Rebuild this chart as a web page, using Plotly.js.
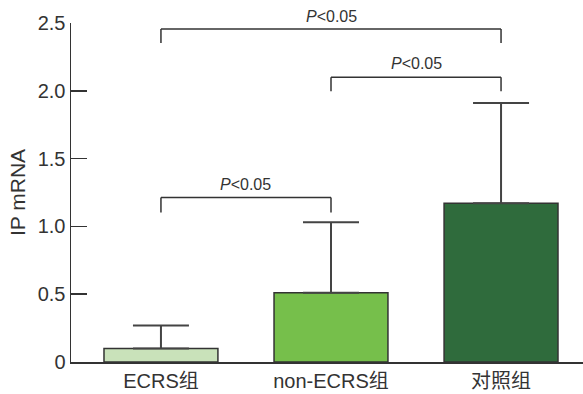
<!DOCTYPE html>
<html>
<head>
<meta charset="utf-8">
<script src="https://cdn.plot.ly/plotly-3.0.1.min.js"></script>
<style>html,body{margin:0;padding:0;background:#fff}#chart{width:583px;height:394px}</style>
</head>
<body>
<div id="chart"></div>
<script>
const categories = ["ECRS组", "non-ECRS组", "对照组"];
const means = [0.10, 0.51, 1.17];
const errUpper = [0.17, 0.52, 0.74];
const barColors = ["#c9e2ba", "#76bf4b", "#2f6b3c"];
const yTickVals = [0, 0.5, 1.0, 1.5, 2.0, 2.5];
const yTickText = ["0", "0.5", "1.0", "1.5", "2.0", "2.5"];
const yMax = 2.5;
// significance brackets: [from index, to index, bar height, leg bottom, label height]
const bracketFrom = [0, 1, 0];
const bracketTo = [2, 2, 1];
const bracketTop = [2.455, 2.10, 1.213];
const bracketLeg = [2.352, 1.997, 1.102];
const bracketLabelY = [2.545, 2.205, 1.31];
const bracketLabel = ["<i>P</i><0.05", "<i>P</i><0.05", "<i>P</i><0.05"];

const FONT = "Liberation Sans, Arial, Noto Sans CJK SC, sans-serif";
const ink = "#333333";

const trace = {
  type: "bar",
  x: categories,
  y: means,
  width: 0.67,
  marker: { color: barColors, line: { color: ink, width: 1.5 } },
  error_y: { type: "data", symmetric: false, array: errUpper, arrayminus: [0, 0, 0],
             color: "#444444", thickness: 2, width: 28 },
  hoverinfo: "skip"
};

const shapes = [];
const annotations = [];
for (let i = 0; i < bracketFrom.length; i++) {
  const a = categories[bracketFrom[i]], b = categories[bracketTo[i]];
  const ln = { color: ink, width: 1.5 };
  shapes.push({ type: "line", xref: "x", yref: "y", x0: a, x1: b, y0: bracketTop[i], y1: bracketTop[i], line: ln });
  shapes.push({ type: "line", xref: "x", yref: "y", x0: a, x1: a, y0: bracketTop[i], y1: bracketLeg[i], line: ln });
  shapes.push({ type: "line", xref: "x", yref: "y", x0: b, x1: b, y0: bracketTop[i], y1: bracketLeg[i], line: ln });
  annotations.push({ xref: "x", yref: "paper", x: (bracketFrom[i] + bracketTo[i]) / 2, y: bracketLabelY[i] / yMax,
    text: bracketLabel[i], showarrow: false, xanchor: "center", yanchor: "middle",
    font: { family: FONT, size: 16, color: ink } });
}

const layout = {
  width: 583, height: 394,
  margin: { l: 71, r: 0, t: 23, b: 32, pad: 0 },
  paper_bgcolor: "#fff", plot_bgcolor: "#fff",
  showlegend: false,
  font: { family: FONT, color: ink },
  xaxis: {
    type: "category", range: [-0.529, 2.482],
    showline: true, linecolor: ink, linewidth: 1.5,
    ticks: "", showgrid: false, zeroline: false,
    tickfont: { family: FONT, size: 20, color: ink }
  },
  yaxis: {
    range: [0, yMax], tickvals: yTickVals, ticktext: yTickText,
    showline: true, linecolor: ink, linewidth: 1.5,
    ticks: "inside", ticklen: 16, tickwidth: 1.5, tickcolor: ink,
    showgrid: false, zeroline: false,
    tickfont: { family: FONT, size: 20, color: ink },
    title: { text: "IP mRNA", font: { family: FONT, size: 21, color: ink }, standoff: 6 }
  },
  shapes: shapes,
  annotations: annotations
};

Plotly.newPlot("chart", [trace], layout, { staticPlot: true, displayModeBar: false });
</script>
</body>
</html>
